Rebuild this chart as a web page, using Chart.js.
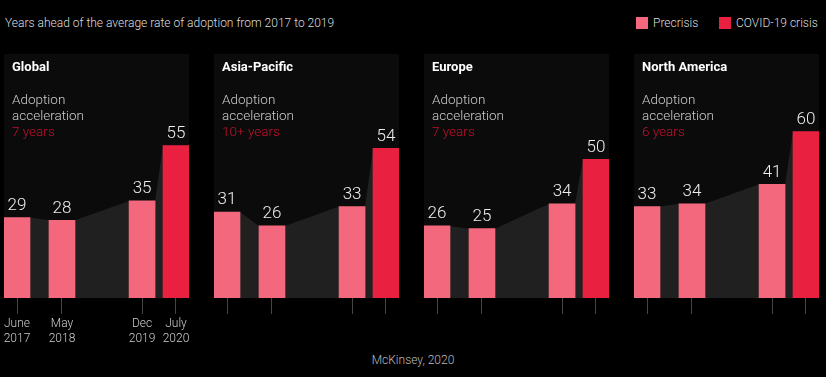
<!DOCTYPE html>
<html lang="en">
<head>
    <meta charset="UTF-8">
    <title>Years ahead of the average rate of adoption</title>
    <script src="https://cdn.jsdelivr.net/npm/chart.js"></script>
    <style>
        body { margin: 0; background: #000; font-family: Roboto, "Noto Sans", sans-serif; }
        #page { position: relative; width: 826px; height: 377px; overflow: hidden; }
        .abs { position: absolute; white-space: nowrap; }
        .header { left: 5px; top: 15px; font-size: 12px; line-height: 16px; color: #ddd; font-weight: 300; }
        .legend { top: 15px; font-size: 12px; line-height: 16px; color: #ddd; font-weight: 300; }
        .swatch { position: absolute; width: 12px; height: 12px; }
        .panel-title { font-size: 13px; font-weight: 700; color: #fff; line-height: 16px; }
        .panel-note { font-size: 13.5px; font-weight: 300; color: #ccc; line-height: 16px; }
        .panel-note span { color: #c8102e; }
        .footer { left: 0; width: 826px; text-align: center; top: 352px; font-size: 12px; color: #bbb; font-weight: 300; line-height: 16px; }
        canvas { position: absolute; }
    </style>
</head>
<body>
<div id="page">
    <div class="abs header">Years ahead of the average rate of adoption from 2017 to 2019</div>
    <div class="swatch" style="left:636px; top:17px; background:#f3687c;"></div>
    <div class="abs legend" style="left:653px;">Precrisis</div>
    <div class="swatch" style="left:719px; top:17px; background:#ea2040;"></div>
    <div class="abs legend" style="left:736px;">COVID-19 crisis</div>
    <div class="abs footer">McKinsey, 2020</div>
</div>

<script>
    const regions = ["Global", "Asia-Pacific", "Europe", "North America"];
    const acceleration = ["7 years", "10+ years", "7 years", "6 years"];
    const periods = [["June", "2017"], ["May", "2018"], ["Dec", "2019"], ["July", "2020"]];
    // horizontal position of each period, in bar widths from the panel's left edge
    const periodPos = [0.5, 2.23, 5.31, 6.615];
    const globalValues = [29, 28, 35, 55];
    const asiaPacificValues = [31, 26, 33, 54];
    const europeValues = [26, 25, 34, 50];
    const northAmericaValues = [33, 34, 41, 60];
    const allValues = [globalValues, asiaPacificValues, europeValues, northAmericaValues];

    const PRE = "#f3687c";
    const COVID = "#ea2040";
    const page = document.getElementById("page");

    const panelBg = {
        id: "panelBg",
        beforeDraw(chart) {
            const { ctx, chartArea: a } = chart;
            ctx.save();
            ctx.fillStyle = "#0b0b0b";
            ctx.fillRect(a.left, a.top, a.right - a.left, a.bottom - a.top);
            ctx.restore();
        }
    };

    const valueLabels = {
        id: "valueLabels",
        afterDatasetsDraw(chart) {
            const { ctx } = chart;
            const meta = chart.getDatasetMeta(0);
            ctx.save();
            ctx.font = "300 17px Roboto";
            ctx.fillStyle = "#eee";
            ctx.textAlign = "center";
            ctx.textBaseline = "middle";
            meta.data.forEach((bar, i) => {
                ctx.fillText(chart.data.datasets[0].data[i].y, bar.x, bar.y - 12);
            });
            ctx.restore();
        }
    };

    regions.forEach((region, r) => {
        const left = 4 + 210 * r;
        const values = allValues[r];

        const title = document.createElement("div");
        title.className = "abs panel-title";
        title.style.left = (left + 8) + "px";
        title.style.top = "59px";
        title.textContent = region;
        page.appendChild(title);

        const note = document.createElement("div");
        note.className = "abs panel-note";
        note.style.left = (left + 8) + "px";
        note.style.top = "91px";
        note.innerHTML = "Adoption<br>acceleration<br><span>" + acceleration[r] + "</span>";
        page.appendChild(note);

        const canvas = document.createElement("canvas");
        canvas.width = 205;
        canvas.height = 294;
        canvas.style.left = (left - 10) + "px";
        canvas.style.top = "54px";
        page.insertBefore(canvas, page.firstChild);

        // area joining the bar tops, drawn behind the bars
        const area = [];
        values.forEach((v, i) => {
            area.push({ x: periodPos[i] - 0.5, y: v });
            area.push({ x: periodPos[i] + 0.5, y: v });
        });

        new Chart(canvas, {
            type: "bar",
            data: {
                datasets: [
                    {
                        type: "bar",
                        data: values.map((v, i) => ({ x: periodPos[i], y: v })),
                        backgroundColor: values.map((v, i) => i === values.length - 1 ? COVID : PRE),
                        barThickness: 26,
                        order: 1
                    },
                    {
                        type: "line",
                        data: area,
                        fill: "origin",
                        backgroundColor: "#202020",
                        borderWidth: 0,
                        pointRadius: 0,
                        tension: 0,
                        order: 2
                    }
                ]
            },
            options: {
                responsive: false,
                animation: false,
                layout: { padding: { left: 10, right: 10, top: 0, bottom: 0 } },
                plugins: { legend: { display: false }, tooltip: { enabled: false } },
                scales: {
                    x: {
                        type: "linear",
                        min: 0,
                        max: 7.115,
                        offset: false,
                        border: { display: false },
                        grid: { offset: false, drawOnChartArea: false, drawTicks: true, tickLength: 16, color: "#444" },
                        afterBuildTicks(scale) {
                            scale.ticks = periodPos.map(v => ({ value: v }));
                        },
                        afterFit(scale) {
                            scale.height = 50;
                        },
                        ticks: {
                            autoSkip: false,
                            maxRotation: 0,
                            padding: 3,
                            color: "#ccc",
                            font: { family: "Roboto", size: 12, weight: 300 },
                            callback: (value, index) => r === 0 ? periods[index] : ""
                        }
                    },
                    y: {
                        display: false,
                        min: 0,
                        max: 88
                    }
                }
            },
            plugins: [panelBg, valueLabels]
        });
    });
</script>
</body>
</html>
